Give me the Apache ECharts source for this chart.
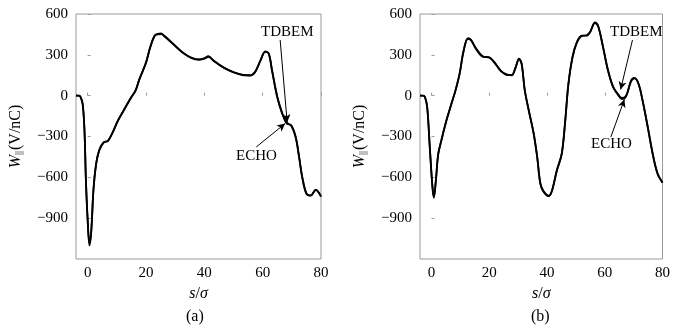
<!DOCTYPE html>
<html><head><meta charset="utf-8">
<script src="https://cdn.jsdelivr.net/npm/echarts@6/dist/echarts.min.js"></script>
<style>html,body{margin:0;padding:0;background:#fff}#c{width:673px;height:335px}</style>
</head><body><div id="c"></div>
<script>
// ---- data ----
var xTicks = [0, 20, 40, 60, 80];
var yTicks = [-900, -600, -300, 0, 300, 600];

var sA = [-4,-3,-2.4,-1.7,-1.1,-0.6,0,0.6,1.2,2,2.9,4,5.5,7,8.6,10.3,12.6,14.9,16.4,17.7,20,21.4,22.9,24,25.2,26.3,29.2,32.6,35.5,38.3,40,41.4,43.1,46.6,50,53.4,55.7,57.4,59.2,60.9,62.1,63.2,65,66.7,68.2,69.8,71.3,72.5,73.6,75.1,76.5,78.2,80];
var wA_tdbem = [0,0,-10,-60,-250,-620,-920,-1100,-1010,-690,-500,-400,-345,-330,-270,-185,-100,-15,35,120,245,355,440,455,458,435,380,318,277,264,275,290,257,208,171,152,147,172,257,326,306,184,-12,-135,-196,-222,-306,-453,-600,-722,-735,-693,-740];
var wA_echo  = [0,0,-12,-65,-255,-625,-910,-1080,-1000,-685,-505,-398,-342,-332,-268,-188,-98,-12,38,118,240,350,436,450,452,440,384,315,280,266,272,286,260,205,174,150,150,175,255,322,310,190,-5,-125,-205,-218,-300,-450,-605,-725,-732,-690,-742];

var sB = [-4,-3,-2.3,-1.5,-0.6,0.3,0.8,1.5,2.3,3.4,5.1,6.9,8.3,9.7,11.1,12.6,13.7,15.4,17.7,20,21.7,24,26.3,27.8,29.1,30.3,31.2,32.3,33.7,35.4,36.6,37.7,38.9,40.6,41.7,43.4,45.1,46.3,47.4,48.8,50.3,52,53.7,54.9,56.6,57.7,59.4,61.1,62.9,64.6,65.9,67.4,69.1,70.3,71.7,73.1,74.9,76.6,78.3,80];
var wB_tdbem = [0,0,-8,-85,-380,-670,-750,-625,-430,-330,-185,-60,37,160,330,422,410,343,287,282,245,184,152,152,208,272,233,37,-110,-282,-453,-649,-710,-738,-698,-551,-429,-184,86,282,392,441,441,465,539,514,355,184,61,12,-17,0,110,130,86,-37,-233,-429,-576,-637];
var wB_echo  = [0,0,-10,-88,-385,-665,-745,-620,-432,-328,-188,-58,40,158,326,418,405,348,290,280,248,180,155,150,205,268,236,40,-112,-280,-450,-645,-705,-735,-700,-548,-425,-188,82,278,388,438,444,468,534,510,360,190,66,5,-25,-5,105,128,88,-35,-230,-425,-572,-640];

function pairs(s, w){ return s.map(function(v,i){ return [v, w[i]]; }); }

var chart = echarts.init(document.getElementById('c'), null, {renderer:'canvas'});
var FONT = '"Liberation Serif","Times New Roman",serif';
var frame = '#9a9a9a';

function xAxis(idx){
  return {
    gridIndex: idx, type: 'value', min: -4, max: 80,
    axisLine: {show: false},
    splitLine: {show: false},
    axisTick: {show: true, inside: true, length: 3, lineStyle: {color: frame}, customValues: xTicks},
    axisLabel: {fontFamily: FONT, fontSize: 15, color: '#000', margin: 7, customValues: xTicks},
    name: '{i|s}{n|/}{i|σ}', nameLocation: 'middle', nameGap: 27,
    nameTextStyle: {fontFamily: FONT, fontSize: 16, color: '#000',
      rich: {i: {fontFamily: FONT, fontStyle: 'italic', fontSize: 16, color:'#000'}, n: {fontFamily: FONT, fontSize: 16, color:'#000'}}}
  };
}
function yAxis(idx){
  return {
    gridIndex: idx, type: 'value', min: -1200, max: 600,
    axisLine: {show: false},
    splitLine: {show: false},
    axisTick: {show: true, inside: true, length: 3, lineStyle: {color: frame}, customValues: yTicks},
    axisLabel: {fontFamily: FONT, fontSize: 15, color: '#000', margin: 8, customValues: yTicks,
      formatter: function(v){ return String(v).replace('-', '\u2212'); }},
    name: '{i|W}{s|||}{n|(V/nC)}', nameLocation: 'middle', nameGap: 52, nameRotate: 90,
    nameTextStyle: {fontFamily: FONT, fontSize: 16, color: '#000',
      rich: {i: {fontFamily: FONT, fontStyle: 'italic', fontSize: 16, color:'#000'},
             s: {fontFamily: FONT, fontSize: 10, color:'#000', verticalAlign: 'bottom', padding:[6,1,0,0]},
             n: {fontFamily: FONT, fontSize: 16, color:'#000'}}}
  };
}
function line(name, data, idx, extra){
  var o = {name: name, type: 'line', xAxisIndex: idx, yAxisIndex: idx, data: data,
    showSymbol: false, smooth: 0.35, lineStyle: {color: '#000', width: 1.8}, silent: true, z: 3};
  if (extra) o.markLine = extra;
  return o;
}
function arrows(list){
  return {silent: true, symbol: ['none','arrow'], symbolSize: [6, 8], label: {show: false},
    lineStyle: {color: '#000', width: 1, type: 'solid'},
    data: list.map(function(a){ return [{coord: a[0]}, {coord: a[1]}]; })};
}

// annotation arrow endpoints in data coordinates (tail, tip)
var arrA = [[[66.0, 409], [68.4, -195]], [[57.8, -377], [67.7, -205]]];
var arrB = [[[69.6, 409], [65.5, 45]], [[62.1, -304], [66.8, -28]]];

chart.setOption({
  animation: false,
  grid: [
    {left: 76, top: 14, width: 245, height: 245, show: true, borderColor: frame, borderWidth: 1, backgroundColor: 'transparent'},
    {left: 420, top: 14, width: 245, height: 245, show: true, borderColor: frame, borderWidth: 1, backgroundColor: 'transparent'}
  ],
  xAxis: [xAxis(0), xAxis(1)],
  yAxis: [yAxis(0), yAxis(1)],
  series: [
    line('TDBEM', pairs(sA, wA_tdbem), 0, arrows(arrA)),
    line('ECHO', pairs(sA, wA_echo), 0),
    line('TDBEM', pairs(sB, wB_tdbem), 1, arrows(arrB)),
    line('ECHO', pairs(sB, wB_echo), 1)
  ],
  graphic: [
    {type: 'text', left: 261, top: 25, style: {text: 'TDBEM', font: '15px ' + FONT, fill: '#000'}},
    {type: 'text', left: 236, top: 149, style: {text: 'ECHO', font: '15px ' + FONT, fill: '#000'}},
    {type: 'text', left: 610, top: 25, style: {text: 'TDBEM', font: '15px ' + FONT, fill: '#000'}},
    {type: 'text', left: 591, top: 137, style: {text: 'ECHO', font: '15px ' + FONT, fill: '#000'}},
    {type: 'text', left: 186, top: 309, style: {text: '(a)', font: '16px ' + FONT, fill: '#000'}},
    {type: 'text', left: 531, top: 309, style: {text: '(b)', font: '16px ' + FONT, fill: '#000'}}
  ]
});
</script></body></html>
